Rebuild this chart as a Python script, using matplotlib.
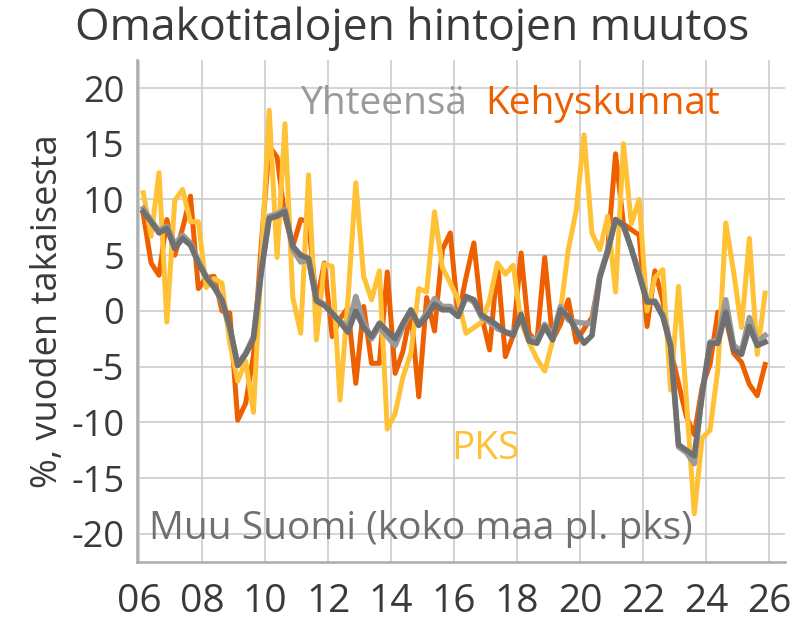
import numpy as np
import matplotlib as mpl
import matplotlib.pyplot as plt

mpl.rcParams.update({'font.family': ['Open Sans', 'DejaVu Sans'],
                     'font.size': 22,
                     'axes.unicode_minus': False})

# quarterly data, 2006Q1 ->
start_year = 2006
n_quarters = 80

muu_suomi = [8.9, 8.0, 7.0, 7.4, 5.6, 6.5, 5.9, 4.3, 3.0, 2.1,
             1.0, -1.4, -4.9, -3.9, -2.5, 3.5, 8.3, 8.5, 8.9, 5.8,
             5.0, 4.7, 0.9, 0.5, -0.2, -1.0, -1.9, 0.0, -1.5, -2.3,
             -1.1, -1.8, -2.5, -1.1, 0.1, -1.3, -0.5, 0.6, 0.1, 0.1,
             -0.5, 1.3, 1.0, -0.4, -0.8, -1.3, -1.9, -2.2, -0.3, -2.7,
             -2.9, -1.4, -2.6, 0.1, -0.5, -1.7, -2.9, -2.2, 3.0, 5.3,
             8.2, 7.7, 5.6, 3.2, 0.8, 0.8, -0.5, -3.2, -12.0, -12.5,
             -13.0, -7.5, -2.9, -2.9, -0.1, -3.5, -3.9, -1.4, -3.1, -2.8]

yhteensa = [9.2, 8.1, 7.2, 7.6, 6.0, 6.8, 6.1, 4.5, 3.1, 2.2,
            0.8, -1.6, -4.8, -3.8, -2.3, 3.8, 8.5, 8.7, 9.1, 5.5,
            4.4, 4.6, 1.0, 0.6, -0.3, -0.9, -1.5, 1.3, -1.0, -2.5,
            -1.4, -2.3, -3.1, -1.4, 0.0, -1.2, -0.2, 1.1, 0.4, 0.4,
            -0.4, 1.2, 0.8, -0.6, -1.0, -1.6, -1.9, -2.0, -0.6, -2.5,
            -2.5, -1.2, -2.2, 0.4, -0.8, -1.0, -1.1, -1.1, 3.2, 5.5,
            8.2, 7.6, 5.6, 3.4, 0.9, 0.9, -0.3, -3.0, -12.2, -12.7,
            -13.7, -7.3, -2.8, -2.6, 1.0, -3.1, -3.6, -0.6, -2.8, -2.2]

kehyskunnat = [8.7, 4.3, 3.2, 8.2, 5.0, 7.4, 10.3, 2.0, 3.0, 3.1,
               0.0, -0.2, -9.8, -8.3, -4.0, 6.0, 14.8, 13.8, 8.4, 5.8,
               8.2, 8.0, 0.7, 4.3, -2.3, -0.7, 0.3, -6.5, 0.4, -4.7,
               -4.7, 3.5, -5.6, -3.6, 0.0, -7.7, 1.2, -1.8, 5.5, 7.0,
               -0.5, 3.0, 6.1, -0.5, -3.5, 4.2, -4.1, -2.2, 5.2, -2.0,
               -2.8, 4.8, -2.6, -1.2, 1.0, -2.8, -1.6, -0.6, 3.1, 5.5,
               14.1, 7.8, 7.3, 6.8, -1.4, 3.6, 0.9, -3.5, -6.5, -9.5,
               -11.1, -6.8, -4.8, -0.1, -0.6, -3.8, -4.6, -6.6, -7.6, -4.8]

pks = [10.6, 6.7, 12.4, -1.0, 9.9, 10.9, 8.0, 8.0, 2.1, 2.9,
       2.5, -2.9, -6.3, -4.5, -9.1, 4.5, 18.0, 4.8, 16.8, 1.2,
       -2.0, 12.2, -2.6, 4.2, 4.0, -8.0, 1.0, 11.5, 3.1, 1.0,
       3.6, -10.6, -9.2, -5.9, -3.8, 2.0, 1.7, 8.9, 3.9, 2.5,
       1.0, -2.0, -1.5, -1.0, 1.0, 4.3, 3.3, 4.1, -1.0, -2.8,
       -4.3, -5.4, -2.7, 0.0, 5.5, 9.0, 15.8, 7.0, 5.5, 8.5,
       1.7, 15.0, 7.8, 10.0, 0.0, 3.0, 3.7, -7.1, 2.2, -8.0,
       -18.2, -11.4, -10.7, -5.2, 7.9, 3.5, -1.5, 6.5, -3.9, 1.6]

x_ticks = list(range(2006, 2027, 2))
x_ticklabels = [f"{y % 100:02d}" for y in x_ticks]
y_ticks = list(range(-20, 21, 5))

# quarter midpoints as decimal years
t = start_year + 0.125 + 0.25 * np.arange(n_quarters)

ORANGE = '#EE5F00'
YELLOW = '#FFC135'
LGRAY = '#9A9A9A'
DGRAY = '#707070'
TXT = '#3a3a3a'

fig = plt.figure(figsize=(8, 6.2), dpi=100)
ax = fig.add_axes([0.171, 0.094, 0.81, 0.809])

ax.plot(t, kehyskunnat, color=ORANGE, lw=3.6, zorder=3)
ax.plot(t, pks, color=YELLOW, lw=3.6, zorder=4)
ax.plot(t, yhteensa, color=LGRAY, lw=4.0, zorder=5)
ax.plot(t, muu_suomi, color=DGRAY, lw=4.0, zorder=6)

ax.set_xlim(2005.92, 2026.5)
ax.set_ylim(-22.5, 22.5)
ax.set_xticks(x_ticks)
ax.set_xticklabels(x_ticklabels)
ax.set_yticks(y_ticks)
ax.tick_params(length=0, labelcolor=TXT)
ax.tick_params(axis='x', pad=15, labelsize=28)
ax.tick_params(axis='y', pad=9, labelsize=26)
ax.grid(True, color='#cccccc', lw=1.2)
ax.set_axisbelow(True)
for side in ('top', 'right'):
    ax.spines[side].set_visible(False)
for side in ('left', 'bottom'):
    ax.spines[side].set_color('#aaaaaa')
    ax.spines[side].set_linewidth(1.8)

ax.set_ylabel("%, vuoden takaisesta", color=TXT, fontsize=26, labelpad=4)

# inline series labels
ax.text(2011.1, 18.6, "Yhteensä", color=LGRAY, fontsize=28, va='center')
ax.text(2017.0, 18.6, "Kehyskunnat", color=ORANGE, fontsize=28, va='center')
ax.text(2015.9, -12.4, "PKS", color=YELLOW, fontsize=28, va='center')
ax.text(2006.3, -19.6, "Muu Suomi (koko maa pl. pks)", color=DGRAY,
        fontsize=28, va='center')

fig.text(0.515, 0.953, "Omakotitalojen hintojen muutos", color=TXT,
         fontsize=32, ha='center', va='center')

fig.savefig('out.png', dpi=100)
